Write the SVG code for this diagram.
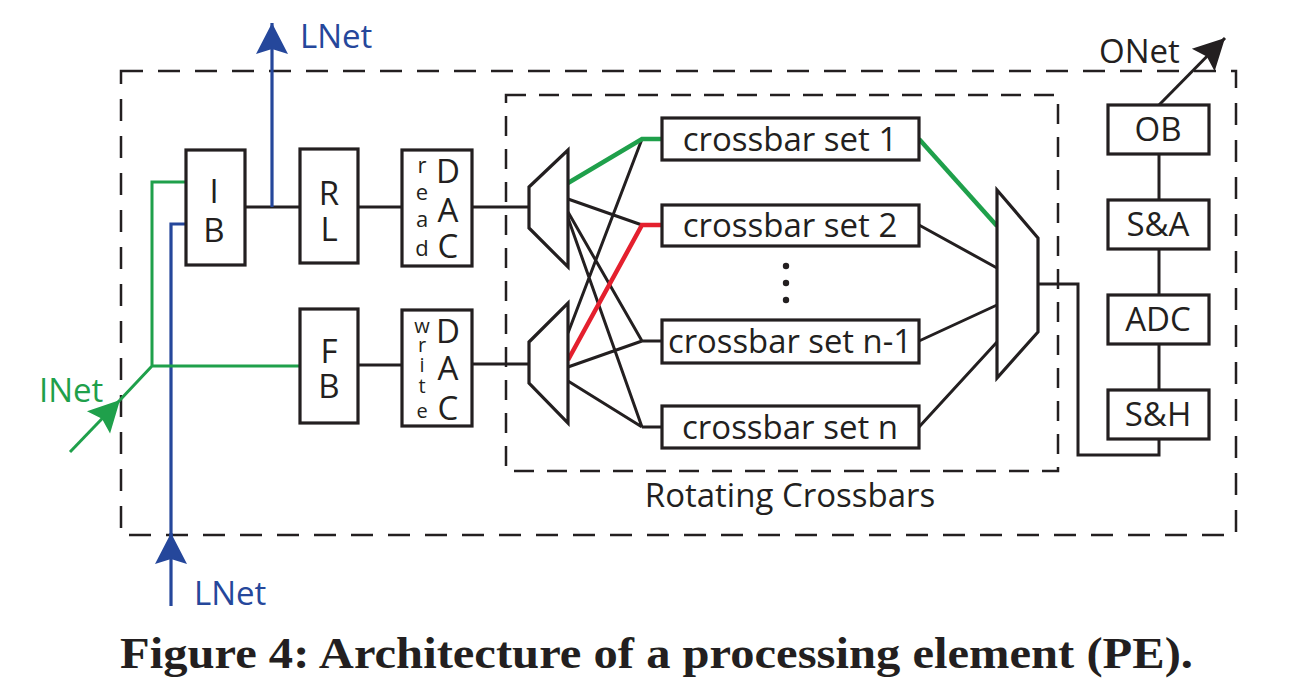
<svg xmlns="http://www.w3.org/2000/svg" width="1308" height="698" viewBox="0 0 1308 698">
<style>
.box{fill:#fff;stroke:#231f20;stroke-width:3.2}
.mux{fill:#fff;stroke:#231f20;stroke-width:3.2;stroke-linejoin:miter}
.ln{fill:none;stroke:#231f20;stroke-width:3}
.g{fill:none;stroke:#1fa04b;stroke-width:4.5}
.gt{fill:none;stroke:#1fa04b;stroke-width:3}
.r{fill:none;stroke:#e4202e;stroke-width:4.5}
.b{fill:none;stroke:#25479b;stroke-width:3.2}
.dash1{fill:none;stroke:#231f20;stroke-width:2.5;stroke-dasharray:22 15}
.dash2{fill:none;stroke:#231f20;stroke-width:2.5;stroke-dasharray:20 13}
text{font-family:"Open Sans","Noto Sans",sans-serif;fill:#231f20}
.big{font-size:33px;text-anchor:middle}
.sm{font-size:22px;text-anchor:middle}
.sw{font-size:20px;text-anchor:middle}
.net{font-size:33px}
.cap{font-family:"Liberation Serif","Times New Roman",serif;font-weight:bold;font-size:45px}
</style>
<defs>
<marker id="ah-blue" viewBox="-32 -17 34 34" refX="0" refY="0" markerWidth="34" markerHeight="34" markerUnits="userSpaceOnUse" orient="auto"><path d="M0,0 L-31,-16 L-26,0 L-31,16 Z" fill="#25479b"/></marker>
<marker id="ah-green" viewBox="-32 -17 34 34" refX="0" refY="0" markerWidth="34" markerHeight="34" markerUnits="userSpaceOnUse" orient="auto"><path d="M0,0 L-31,-16 L-26,0 L-31,16 Z" fill="#1fa04b"/></marker>
<marker id="ah-black" viewBox="-32 -17 34 34" refX="0" refY="0" markerWidth="34" markerHeight="34" markerUnits="userSpaceOnUse" orient="auto"><path d="M0,0 L-31,-16 L-26,0 L-31,16 Z" fill="#231f20"/></marker>
</defs>

<g id="pe-boundary"><rect class="dash1" x="121" y="71" width="1115" height="464"/></g>
<g id="rotating-crossbars"><rect class="dash2" x="506" y="95" width="552" height="376"/>
<text x="790" y="507" style="font-size:33px;text-anchor:middle">Rotating Crossbars</text></g>

<g id="connectors">
<path class="ln" d="M245,207 H300 M358,207 H402 M472,207 H529 M358,365 H402 M472,364 H529"/>
<path class="ln" d="M568,199 L642,225 M568,212 L642,341 M568,218 L642,427 M568,333 L642,139 M568,367 L642,341 M568,381 L642,427 M642,341 H662 M642,427 H662"/>
<path class="r" d="M568,360 L642,225 H662"/>
<path class="g" d="M568,183 L642,139 H662"/>
<path class="g" d="M919,139 L997,226"/>
<path class="ln" d="M919,225 L997,268 M919,341 L997,305 M919,427 L997,342"/>
<path class="ln" d="M1038,284 H1078 V455 H1159 V439 M1159,154 V200 M1159,249 V295 M1159,344 V390"/>
<path class="ln" d="M1159,105 L1225,38" marker-end="url(#ah-black)"/>
<path class="b" d="M272,207 V23" marker-end="url(#ah-blue)"/>
<path class="b" d="M171,606 V533" marker-end="url(#ah-blue)"/>
<path class="b" d="M171,540 V224 H186"/>
<path class="gt" d="M186,182 H152 V366 H300 M152,366 L120,400"/>
<path class="gt" d="M70,452 L120,400" marker-end="url(#ah-green)"/>
</g>

<g id="lnet-out"><text class="net" x="300" y="48" style="fill:#25479b">LNet</text></g>
<g id="lnet-in"><text class="net" x="194" y="605" style="fill:#25479b">LNet</text></g>
<g id="inet"><text class="net" x="39" y="402" style="fill:#1fa04b">INet</text></g>
<g id="onet"><text class="net" x="1099" y="63">ONet</text></g>

<g id="IB"><rect class="box" x="186" y="150" width="59" height="115"/>
<text class="big"><tspan x="214" y="203">I</tspan><tspan x="214" y="242">B</tspan></text></g>
<g id="RL"><rect class="box" x="300" y="149" width="58" height="114"/>
<text class="big"><tspan x="329" y="205">R</tspan><tspan x="329" y="241">L</tspan></text></g>
<g id="FB"><rect class="box" x="300" y="309" width="58" height="114"/>
<text class="big"><tspan x="329" y="363">F</tspan><tspan x="329" y="398">B</tspan></text></g>
<g id="read-DAC"><rect class="box" x="402" y="150" width="70" height="116"/>
<text class="big"><tspan x="448" y="183">D</tspan><tspan x="448" y="222">A</tspan><tspan x="448" y="258">C</tspan></text>
<text class="sm"><tspan x="422" y="173">r</tspan><tspan x="422" y="200">e</tspan><tspan x="422" y="227">a</tspan><tspan x="422" y="256">d</tspan></text></g>
<g id="write-DAC"><rect class="box" x="402" y="310" width="70" height="116"/>
<text class="big"><tspan x="448" y="343">D</tspan><tspan x="448" y="380">A</tspan><tspan x="448" y="420">C</tspan></text>
<text class="sw"><tspan x="422" y="333">w</tspan><tspan x="422" y="352">r</tspan><tspan x="422" y="372">i</tspan><tspan x="422" y="393">t</tspan><tspan x="422" y="418">e</tspan></text></g>

<g id="mux-read"><polygon class="mux" points="529,187 568,150 568,267 529,228"/></g>
<g id="mux-write"><polygon class="mux" points="529,342 568,303 568,423 529,383"/></g>
<g id="mux-out"><polygon class="mux" points="997,190 1038,238 1038,332 997,378"/></g>

<g id="xbar1"><rect class="box" x="662" y="118" width="257" height="42"/><text class="big" x="790" y="151">crossbar set 1</text></g>
<g id="xbar2"><rect class="box" x="662" y="205" width="257" height="41"/><text class="big" x="790" y="237">crossbar set 2</text></g>
<g id="dots"><circle cx="786" cy="266" r="3.2" fill="#231f20"/><circle cx="786" cy="283" r="3.2" fill="#231f20"/><circle cx="786" cy="300" r="3.2" fill="#231f20"/></g>
<g id="xbar-n-1"><rect class="box" x="662" y="320" width="257" height="43"/><text class="big" x="790" y="353" textLength="244" lengthAdjust="spacingAndGlyphs">crossbar set n-1</text></g>
<g id="xbar-n"><rect class="box" x="662" y="406" width="257" height="42"/><text class="big" x="790" y="439">crossbar set n</text></g>

<g id="OB"><rect class="box" x="1108" y="105" width="101" height="49"/><text class="big" x="1158" y="141">OB</text></g>
<g id="SA"><rect class="box" x="1108" y="200" width="101" height="49"/><text class="big" x="1158" y="236">S&amp;A</text></g>
<g id="ADC"><rect class="box" x="1108" y="295" width="101" height="49"/><text class="big" x="1158" y="331">ADC</text></g>
<g id="SH"><rect class="box" x="1108" y="390" width="101" height="49"/><text class="big" x="1158" y="426">S&amp;H</text></g>

<g id="caption"><text class="cap" x="120" y="668" textLength="1073" lengthAdjust="spacingAndGlyphs">Figure 4: Architecture of a processing element (PE).</text></g>
</svg>
